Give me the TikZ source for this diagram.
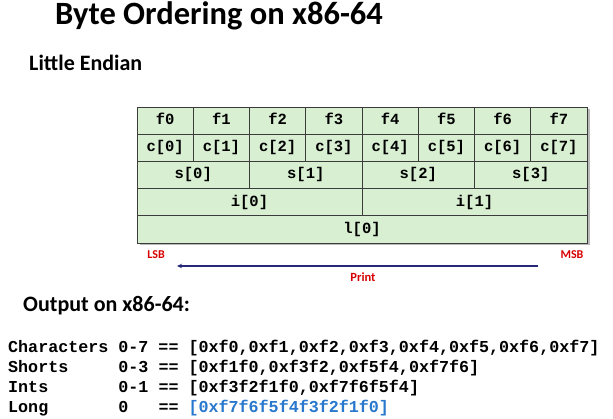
\documentclass[tikz,border=0pt]{standalone}
\usepackage{fontspec}
\setmainfont{Carlito}
\setmonofont{Liberation Mono}
\usetikzlibrary{arrows.meta}
\definecolor{cellgreen}{RGB}{216,239,210}
\definecolor{cellline}{RGB}{60,60,60}
\definecolor{lsbred}{RGB}{215,0,0}
\definecolor{arrblue}{RGB}{40,40,120}
\definecolor{longblue}{RGB}{40,120,205}
\tikzset{
  cell/.style={draw=cellline, line width=0.7pt, fill=cellgreen, inner sep=0pt,
    minimum height=27.2pt, text height=10.5pt, text depth=2.5pt,
    font=\ttfamily\bfseries\fontsize{15.5}{17}\selectfont},
  heading/.style={anchor=base west, inner sep=0pt, font=\bfseries\fontsize{22}{26}\selectfont},
  redlab/.style={inner sep=0pt, text=lsbred, font=\bfseries\fontsize{12}{14}\selectfont},
  codeline/.style={anchor=base west, inner sep=0pt, font=\ttfamily\bfseries\fontsize{16.7}{20}\selectfont},
}
\begin{document}
\begin{tikzpicture}[x=1pt,y=-1pt]
\useasboundingbox (0,0) rectangle (613,419);
% title and headings
\node[heading, font=\bfseries\fontsize{32.5}{38}\selectfont] (title) at (55,24.5) {Byte Ordering on x86-64};
\node[heading] (little) at (29,71) {Little Endian};
\node[heading] (output) at (23,312) {Output on x86-64:};
% shadow of table
\fill[black!45, opacity=0.6] (139.5,109.5) rectangle (589.5,245.5);
% table
\def\cw{56.25}
\def\rh{27.2}
\foreach \i in {0,...,7}{
  \node[cell, minimum width=\cw pt] (f\i) at ({137+\cw*(\i+0.5)},{107+0.5*\rh}) {f\i};
  \node[cell, minimum width=\cw pt] (c\i) at ({137+\cw*(\i+0.5)},{107+1.5*\rh}) {c[\i]};
}
\foreach \i in {0,...,3}{
  \node[cell, minimum width=2*\cw pt] (s\i) at ({137+2*\cw*(\i+0.5)},{107+2.5*\rh}) {s[\i]};
}
\foreach \i in {0,1}{
  \node[cell, minimum width=4*\cw pt] (i\i) at ({137+4*\cw*(\i+0.5)},{107+3.5*\rh}) {i[\i]};
}
\node[cell, minimum width=8*\cw pt] (l0) at ({137+4*\cw},{107+4.5*\rh}) {l[0]};
% LSB / MSB / Print
\node[redlab] (lsb) at (156,255) {LSB};
\node[redlab] (msb) at (572,255) {MSB};
\coordinate (arrS) at (538,266);
\coordinate (arrE) at (177,266);
\draw[arrblue, line width=1.1pt, -{Stealth[length=5pt,width=4.5pt]}] (arrS) -- (arrE);
\node[redlab, font=\bfseries\fontsize{12.5}{14}\selectfont] (print) at (363,277) {Print};
% output lines
\node[codeline] (line1) at (8,352.5) {Characters~0-7~==~[0xf0,0xf1,0xf2,0xf3,0xf4,0xf5,0xf6,0xf7]};
\node[codeline] (line2) at (8,372.7) {Shorts~~~~~0-3~==~[0xf1f0,0xf3f2,0xf5f4,0xf7f6]};
\node[codeline] (line3) at (8,392.9) {Ints~~~~~~~0-1~==~[0xf3f2f1f0,0xf7f6f5f4]};
\node[codeline] (line4) at (8,413) {Long~~~~~~~0~~~==~\textcolor{longblue}{[0xf7f6f5f4f3f2f1f0]}};
\end{tikzpicture}
\end{document}
